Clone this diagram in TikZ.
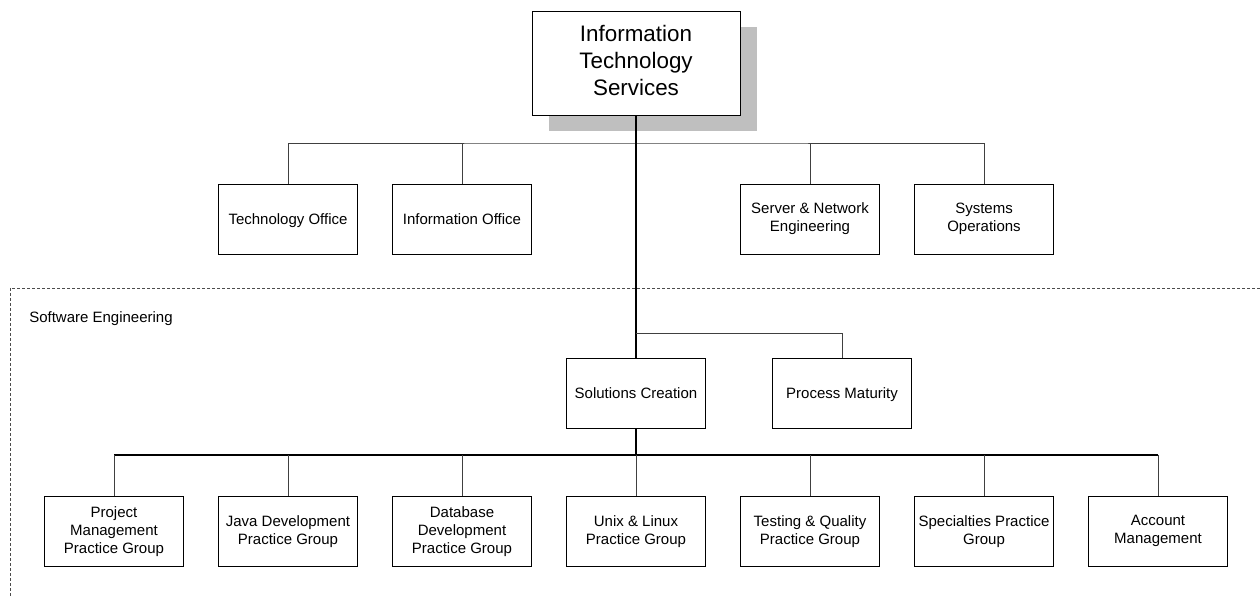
\documentclass[tikz,border=0pt]{standalone}
\usepackage{fontspec}
\setmainfont{Liberation Sans}
\usetikzlibrary{shadows}

\newcommand\capstrut{\rule[-0.242em]{0pt}{1.2em}}

\begin{document}
\begin{tikzpicture}[
  x=0.75pt, y=-0.75pt,
  unit/.style={draw,fill=white,line width=0.6pt,align=center,
    minimum width=104.25pt,minimum height=52.5pt,inner sep=1pt,
    execute at begin node=\capstrut,execute at end node=\capstrut,
    font=\fontsize{11.25}{13.5}\selectfont},
  topunit/.style={unit,minimum width=156pt,minimum height=78pt,
    font=\fontsize{16.8}{20.2}\selectfont,
    drop shadow={shadow xshift=12.75pt,shadow yshift=-12pt,opacity=1,fill=black!25}},
  link/.style={draw=black!75,line width=0.6pt},
  trunk/.style={draw=black,line width=1pt},
  grouplbl/.style={font=\fontsize{11.25}{13.5}\selectfont,anchor=west,inner sep=0pt},
]
\useasboundingbox (0,0) rectangle (1260,598);

% ----- Head -----
\node[topunit] (its) at (636,63) {Information\\Technology\\Services};

% ----- Offices -----
\node[unit] (tech)  at (288,219) {Technology Office};
\node[unit] (info)  at (462,219) {Information Office};
\node[unit] (srv)   at (810,219) {Server \& Network\\Engineering};
\node[unit] (sysop) at (984,219) {Systems\\Operations};

\coordinate (bus1) at (636,143);
\draw[link] (tech.north) |- (bus1) -| (sysop.north);
\draw[link] (info.north) -- (info.north |- bus1);
\draw[link] (srv.north) -- (srv.north |- bus1);

% ----- Software Engineering group -----
\draw[black!70,line width=0.5pt,dash pattern=on 2.25pt off 1.5pt]
  (1260,288) -- (10,288) -- (10,598);
\node[grouplbl] (swlbl) at (29,319) {Software Engineering};

\node[unit] (sol)  at (636,393) {Solutions Creation};
\node[unit] (proc) at (842,393) {Process Maturity};

\draw[trunk] (its.south) -- (sol.north);
\coordinate (fork) at (636,333);
\draw[link] (fork) -| (proc.north);

% ----- Practice groups -----
\foreach \nm/\x/\txt in {
  pm/114/{Project\\Management\\Practice Group},
  java/288/{Java Development\\Practice Group},
  db/462/{Database\\Development\\Practice Group},
  unix/636/{Unix \& Linux\\Practice Group},
  test/810/{Testing \& Quality\\Practice Group},
  spec/984/{Specialties Practice\\Group},
  acct/1158/{Account\\Management}}
  \node[unit] (\nm) at (\x,531.5) {\txt};

\coordinate (bus2) at (636,455);
\draw[trunk] (sol.south) -- (bus2);
\draw[trunk] (pm.north |- bus2) -- (acct.north |- bus2);
\foreach \nm in {pm,java,db,unix,test,spec,acct}
  \draw[link] (\nm.north) -- (\nm.north |- bus2);

\end{tikzpicture}
\end{document}
